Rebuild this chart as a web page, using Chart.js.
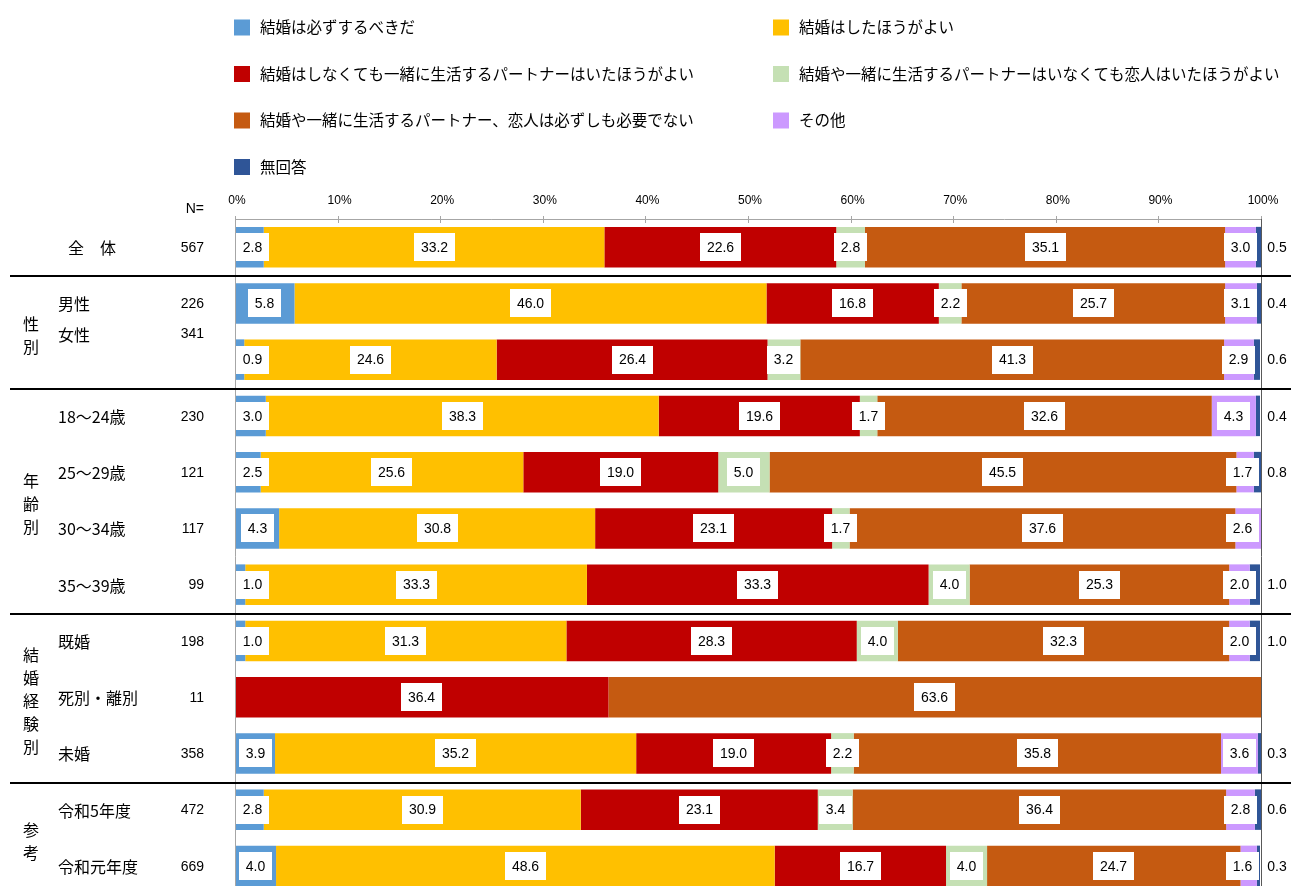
<!DOCTYPE html>
<html lang="ja">
<head>
<meta charset="utf-8">
<script src="https://cdn.jsdelivr.net/npm/chart.js@4/dist/chart.umd.min.js"></script>
<style>
  html, body { margin: 0; padding: 0; background: #fff; overflow: hidden; }
  #wrap { position: relative; width: 1291px; height: 900px; }
</style>
</head>
<body>
<div id="wrap"><canvas id="chart"></canvas></div>
<script>
// rows (top to bottom) and their sample sizes
const categories = ["全　体", "男性", "女性", "18〜24歳", "25〜29歳", "30〜34歳", "35〜39歳", "既婚", "死別・離別", "未婚", "令和5年度", "令和元年度"]
const sampleSizes = [567, 226, 341, 230, 121, 117, 99, 198, 11, 358, 472, 669]

// group captions on the far left, with first/last row they span
const groupNames = ["性別", "年齢別", "結婚経験別", "参考"]
const groupRows = [[1, 2], [3, 6], [7, 9], [10, 11]]
// a rule is drawn below each of these rows
const ruleAfter = [0, 2, 6, 9]

const seriesNames = [
  "結婚は必ずするべきだ",
  "結婚はしたほうがよい",
  "結婚はしなくても一緒に生活するパートナーはいたほうがよい",
  "結婚や一緒に生活するパートナーはいなくても恋人はいたほうがよい",
  "結婚や一緒に生活するパートナー、恋人は必ずしも必要でない",
  "その他",
  "無回答"
]
const mustMarry   = [2.8, 5.8, 0.9, 3.0, 2.5, 4.3, 1.0, 1.0, 0, 3.9, 2.8, 4.0]
const betterMarry = [33.2, 46.0, 24.6, 38.3, 25.6, 30.8, 33.3, 31.3, 0, 35.2, 30.9, 48.6]
const partner     = [22.6, 16.8, 26.4, 19.6, 19.0, 23.1, 33.3, 28.3, 36.4, 19.0, 23.1, 16.7]
const loverOnly   = [2.8, 2.2, 3.2, 1.7, 5.0, 1.7, 4.0, 4.0, 0, 2.2, 3.4, 4.0]
const notNeeded   = [35.1, 25.7, 41.3, 32.6, 45.5, 37.6, 25.3, 32.3, 63.6, 35.8, 36.4, 24.7]
const other       = [3.0, 3.1, 2.9, 4.3, 1.7, 2.6, 2.0, 2.0, 0, 3.6, 2.8, 1.6]
const noAnswer    = [0.5, 0.4, 0.6, 0.4, 0.8, 0, 1.0, 1.0, 0, 0.3, 0.6, 0.3]

const xTicks = [0, 10, 20, 30, 40, 50, 60, 70, 80, 90, 100]

const seriesValues = [mustMarry, betterMarry, partner, loverOnly, notNeeded, other, noAnswer]
const seriesColors = ["#5B9BD5", "#FFC000", "#C00000", "#C5E0B4", "#C55A11", "#CC99FF", "#2F5597"]

const JP = '"Noto Sans CJK JP", "Noto Sans", sans-serif'
const NUM = '"Liberation Sans", Arial, sans-serif'

const sheetDecor = {
  id: "sheetDecor",
  afterDatasetsDraw(chart) {
    const { ctx, chartArea: area } = chart
    const xs = chart.scales.x
    const ys = chart.scales.y
    ctx.save()

    // value boxes inside the bars, 無回答 written outside on the right
    chart.data.datasets.forEach((ds, di) => {
      const meta = chart.getDatasetMeta(di)
      meta.data.forEach((bar, i) => {
        const v = ds.data[i]
        if (!v) return
        const txt = v.toFixed(1)
        ctx.font = "14px " + NUM
        ctx.textAlign = "center"
        ctx.textBaseline = "middle"
        if (di === seriesValues.length - 1) {
          ctx.fillStyle = "#000"
          ctx.fillText(txt, area.right + 16, bar.y + 1)
          return
        }
        const w = Math.round(ctx.measureText(txt).width + 14)
        let left = (Math.min(bar.x, area.right) + bar.base) / 2 - w / 2
        // keep the box inside the plot frame
        left = Math.max(area.left + 1, Math.min(left, area.right - 2 - w))
        left = Math.round(left)
        ctx.fillStyle = "#fff"
        ctx.fillRect(left, Math.round(bar.y - 14), w, 28)
        ctx.fillStyle = "#000"
        ctx.fillText(txt, left + w / 2, bar.y + 1)
      })
    })

    // plot frame and top ticks
    ctx.lineWidth = 1
    ctx.strokeStyle = "#a6a6a6"
    ctx.beginPath()
    ctx.moveTo(area.left + 0.5, area.bottom)
    ctx.lineTo(area.left + 0.5, area.top + 0.5)
    ctx.lineTo(area.right, area.top + 0.5)
    xTicks.forEach(t => {
      const px = Math.round(xs.getPixelForValue(t)) + 0.5
      ctx.moveTo(px, area.top - 3)
      ctx.lineTo(px, area.top + 4)
    })
    ctx.stroke()
    ctx.strokeStyle = "#595959"
    ctx.beginPath()
    ctx.moveTo(area.right + 0.5, area.top)
    ctx.lineTo(area.right + 0.5, area.bottom)
    ctx.stroke()

    ctx.fillStyle = "#000"
    ctx.font = "12px " + NUM
    ctx.textAlign = "center"
    ctx.textBaseline = "middle"
    xTicks.forEach(t => ctx.fillText(t + "%", xs.getPixelForValue(t) + 2, 201))

    // horizontal rules between the groups
    ctx.strokeStyle = "#000"
    ctx.lineWidth = 2
    ruleAfter.forEach(r => {
      const y = Math.round((ys.getPixelForValue(r) + ys.getPixelForValue(r + 1)) / 2) + 1
      ctx.beginPath()
      ctx.moveTo(10, y)
      ctx.lineTo(chart.width, y)
      ctx.stroke()
    })

    // row captions and N
    ctx.textBaseline = "middle"
    const nudge = { "女性": -26 }
    categories.forEach((c, i) => {
      const y = ys.getPixelForValue(i) + (nudge[c] || 0) + 1
      ctx.font = "16px " + JP
      ctx.textAlign = "left"
      ctx.fillText(c, i === 0 ? 68 : 58, y)
      ctx.font = "14px " + NUM
      ctx.textAlign = "right"
      ctx.fillText(String(sampleSizes[i]), 204, y)
    })
    ctx.fillText("N=", 204, 209)

    // vertical group captions
    ctx.font = "16px " + JP
    ctx.textAlign = "center"
    groupNames.forEach((g, gi) => {
      const [a, b] = groupRows[gi]
      const mid = (ys.getPixelForValue(a) + ys.getPixelForValue(b)) / 2 + 4
      const chars = Array.from(g)
      const step = 23
      chars.forEach((ch, k) => {
        ctx.fillText(ch, 31, mid + (k - (chars.length - 1) / 2) * step)
      })
    })

    // legend: two columns
    const colX = [234, 773]
    ctx.textAlign = "left"
    ctx.font = "15.5px " + JP
    seriesNames.forEach((name, i) => {
      const col = i % 2
      const row = Math.floor(i / 2)
      const y = 27.5 + row * 46.5
      ctx.fillStyle = seriesColors[i]
      ctx.fillRect(colX[col], y - 8, 16, 16)
      ctx.fillStyle = "#000"
      ctx.fillText(name, colX[col] + 26, y)
    })

    ctx.restore()
  }
}

new Chart(document.getElementById("chart"), {
  type: "bar",
  data: {
    labels: categories,
    datasets: seriesNames.map((name, i) => ({
      label: name,
      data: seriesValues[i],
      backgroundColor: seriesColors[i],
      borderWidth: 0,
      barPercentage: 0.72,
      categoryPercentage: 1
    }))
  },
  options: {
    indexAxis: "y",
    responsive: true,
    maintainAspectRatio: false,
    animation: false,
    layout: { padding: { left: 235, right: 30, top: 219, bottom: 6 } },
    scales: {
      x: { stacked: true, min: 0, max: 100, display: false },
      y: { stacked: true, display: false }
    },
    plugins: {
      legend: { display: false },
      tooltip: { enabled: false }
    }
  },
  plugins: [sheetDecor]
})
</script>
</body>
</html>
